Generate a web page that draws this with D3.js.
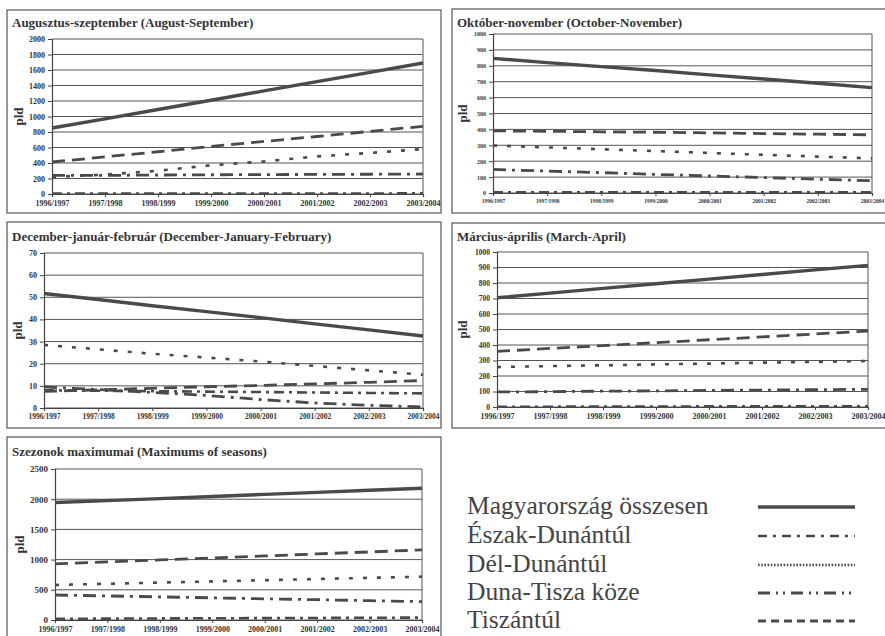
<!DOCTYPE html>
<html>
<head>
<meta charset="utf-8">
<script src="https://cdn.jsdelivr.net/npm/d3@7"></script>
<style>
  body { margin: 0; background: #fff; }
  svg { display: block; }
</style>
</head>
<body>
<div id="chart"></div>
<script>
// seasons on the x axis
const seasons = ["1996/1997", "1997/1998", "1998/1999", "1999/2000", "2000/2001", "2001/2002", "2002/2003", "2003/2004"];

// series order: total, Észak-Dunántúl, Dél-Dunántúl, Duna-Tisza köze, Tiszántúl
const seriesNames = ["Magyarország összesen", "Észak-Dunántúl", "Dél-Dunántúl", "Duna-Tisza köze", "Tiszántúl"];

const augSep = [
  [851, 970, 1090, 1210, 1330, 1450, 1570, 1690],
  [5, 5, 5, 6, 6, 7, 7, 8],
  [220, 250, 300, 370, 420, 485, 530, 580],
  [240, 240, 245, 248, 250, 253, 255, 258],
  [413, 480, 545, 615, 678, 742, 808, 873]
];
const octNov = [
  [847, 820, 795, 770, 743, 717, 690, 663],
  [5, 5, 5, 5, 5, 5, 5, 5],
  [299, 287, 275, 264, 252, 240, 229, 218],
  [148, 138, 128, 117, 107, 97, 87, 77],
  [391, 388, 385, 382, 378, 374, 370, 366]
];
const decJanFeb = [
  [51.7, 49.0, 46.2, 43.5, 40.8, 38.0, 35.3, 32.5],
  [8, 7.8, 7.6, 7.4, 7.2, 7, 6.8, 6.6],
  [28.5, 26.5, 24.5, 22.8, 21, 19, 17, 15],
  [9.5, 8.3, 7, 5.7, 3.8, 2.3, 1.2, 0.5],
  [7.5, 8.2, 8.9, 9.6, 10.2, 10.9, 11.6, 12.4]
];
const marApr = [
  [705, 735, 765, 795, 825, 855, 885, 914],
  [2, 2, 3, 3, 4, 4, 5, 5],
  [258, 264, 269, 275, 280, 286, 291, 297],
  [97, 99, 102, 104, 107, 109, 112, 114],
  [359, 378, 396, 415, 434, 452, 471, 490]
];
const maxSeasons = [
  [1945, 1977, 2010, 2045, 2080, 2113, 2147, 2182],
  [20, 23, 26, 29, 31, 34, 37, 40],
  [580, 600, 620, 639, 659, 679, 698, 718],
  [414, 398, 383, 367, 351, 336, 320, 304],
  [928, 961, 994, 1027, 1061, 1094, 1127, 1160]
];

const ink = "#4a4a4a";
const serif = "'Liberation Serif'";
const styles = [
  { width: 3.4, dash: null, legendDash: null },
  { width: 2.6, dash: "10,5,3,5", legendDash: "9,6,3,6" },
  { width: 2.6, dash: "4,10", legendDash: "1.6,1.6" },
  { width: 2.8, dash: "13,6,3,6", legendDash: "12,6,2,5,2,6" },
  { width: 2.8, dash: "13,7", legendDash: "8,5" }
];

const svg = d3.select("#chart").append("svg").attr("width", 885).attr("height", 636);

function drawPanel(p, data) {
  const g = svg.append("g");

  g.append("rect")
    .attr("x", p.box[0]).attr("y", p.box[1])
    .attr("width", p.box[2] - p.box[0]).attr("height", p.box[3] - p.box[1])
    .attr("fill", "none").attr("stroke", "#555").attr("stroke-width", 1.2);

  g.append("text")
    .attr("x", p.box[0] + 5).attr("y", p.titleY)
    .style("font-family", serif)
    .style("font-weight", "bold").style("font-size", p.titleSize + "px")
    .attr("fill", "#333")
    .text(p.title);

  const x = d3.scalePoint().domain(seasons).range([p.left, p.right]);
  const y = d3.scaleLinear().domain([0, p.max]).range([p.bottom, p.top]);
  const ticks = d3.range(0, p.max + p.step / 2, p.step);

  // horizontal grid
  g.append("g")
    .selectAll("line")
    .data(ticks)
    .join("line")
    .attr("x1", p.left).attr("x2", p.right)
    .attr("y1", (d) => y(d)).attr("y2", (d) => y(d))
    .attr("stroke", "#555").attr("stroke-width", 1);

  // right edge of plot
  g.append("line")
    .attr("x1", p.right).attr("x2", p.right)
    .attr("y1", p.top).attr("y2", p.bottom)
    .attr("stroke", "#555").attr("stroke-width", 1);

  const yAxis = g.append("g")
    .attr("transform", `translate(${p.left},0)`)
    .call(d3.axisLeft(y).tickValues(ticks).tickSize(4).tickPadding(3).tickFormat(d3.format("d")));

  const xAxis = g.append("g")
    .attr("transform", `translate(0,${p.bottom})`)
    .call(d3.axisBottom(x).tickSize(3).tickPadding(3));

  [yAxis, xAxis].forEach((a) => {
    a.select(".domain").attr("stroke", "#444").attr("stroke-width", 1.2);
    a.selectAll(".tick line").attr("stroke", "#444");
    a.selectAll("text")
      .style("font-family", serif)
      .style("font-weight", "bold")
      .attr("fill", "#333");
  });
  yAxis.selectAll("text").style("font-size", p.yFont + "px");
  xAxis.selectAll("text").style("font-size", p.xFont + "px");

  g.append("text")
    .attr("transform", `translate(${p.labelX},${(p.top + p.bottom) / 2}) rotate(-90)`)
    .attr("text-anchor", "middle")
    .style("font-family", serif)
    .style("font-weight", "bold").style("font-size", "13px")
    .attr("fill", "#333")
    .text("pld");

  const line = d3.line()
    .x((d, i) => x(seasons[i]))
    .y((d) => y(d));

  // draw small series first, total on top
  [1, 3, 2, 4, 0].forEach((s) => {
    g.append("path")
      .datum(data[s])
      .attr("fill", "none")
      .attr("stroke", ink)
      .attr("stroke-width", styles[s].width)
      .attr("stroke-dasharray", styles[s].dash)
      .attr("d", line);
  });
}

drawPanel({ box: [7, 10, 441, 213], title: "Augusztus-szeptember (August-September)", titleY: 27, titleSize: 13,
  left: 52, right: 423, top: 39, bottom: 194, max: 2000, step: 200, yFont: 8, xFont: 8, labelX: 23 }, augSep);
drawPanel({ box: [452, 9, 892, 213], title: "Október-november (October-November)", titleY: 27, titleSize: 13,
  left: 493, right: 872, top: 34, bottom: 193, max: 1000, step: 100, yFont: 6, xFont: 5.5, labelX: 467 }, octNov);
drawPanel({ box: [7, 222, 441, 428], title: "December-január-február (December-January-February)", titleY: 241, titleSize: 13,
  left: 44, right: 423, top: 253, bottom: 408, max: 70, step: 10, yFont: 8, xFont: 7.5, labelX: 22 }, decJanFeb);
drawPanel({ box: [452, 223, 892, 428], title: "Március-április (March-April)", titleY: 241, titleSize: 13,
  left: 497, right: 868, top: 252, bottom: 407, max: 1000, step: 100, yFont: 7.5, xFont: 8, labelX: 467 }, marApr);
drawPanel({ box: [7, 437, 441, 645], title: "Szezonok maximumai (Maximums of seasons)", titleY: 456, titleSize: 13,
  left: 55, right: 422, top: 469, bottom: 620, max: 2500, step: 500, yFont: 9, xFont: 8, labelX: 24 }, maxSeasons);

// legend
const legend = svg.append("g");
const legendBase = [514, 543, 572, 600, 628];
seriesNames.forEach((name, i) => {
  legend.append("text")
    .attr("x", 467).attr("y", legendBase[i])
    .style("font-family", serif)
    .style("font-size", "25.5px")
    .attr("fill", "#444")
    .text(name);
  legend.append("line")
    .attr("x1", 758).attr("x2", 855)
    .attr("y1", legendBase[i] - 7).attr("y2", legendBase[i] - 7)
    .attr("stroke", ink)
    .attr("stroke-width", styles[i].width)
    .attr("stroke-dasharray", styles[i].legendDash);
});
</script>
</body>
</html>
